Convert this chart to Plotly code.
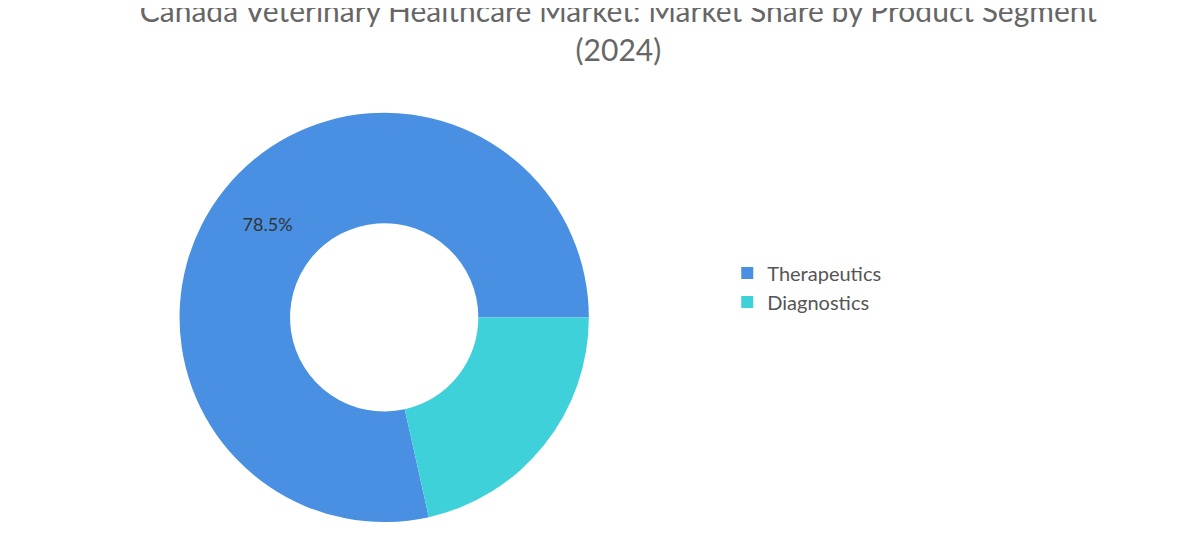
import plotly.graph_objects as go

labels = ["Therapeutics", "Diagnostics"]
values = [78.5, 21.5]
texts = ["78.5%", ""]
colors = ["#4a90e2", "#3fd1da"]

fig = go.Figure(go.Pie(
    labels=labels, values=values, text=texts, texttemplate="%{text}",
    textposition="inside", hole=0.46, sort=False, direction="clockwise",
    rotation=167.4, marker=dict(colors=colors), domain=dict(x=[0.145, 0.491], y=[0.08, 0.813]),
    textfont=dict(size=18, color="#333333"), insidetextorientation="horizontal",
    hoverinfo="label+percent",
))
fig.update_layout(
    width=1183, height=559, margin=dict(l=0, r=0, t=0, b=0),
    paper_bgcolor="white", font=dict(family="Lato, sans-serif"),
    title=dict(text="Canada Veterinary Healthcare Market: Market Share by Product Segment<br>(2024)",
               x=0.516, xanchor="center", y=0.975, yanchor="top",
               font=dict(size=30, color="#666666")),
    legend=dict(x=0.608, y=0.5, xanchor="left", yanchor="middle",
                font=dict(size=20, color="#555555"), itemsizing="constant"),
)
fig.write_html("out.html")
